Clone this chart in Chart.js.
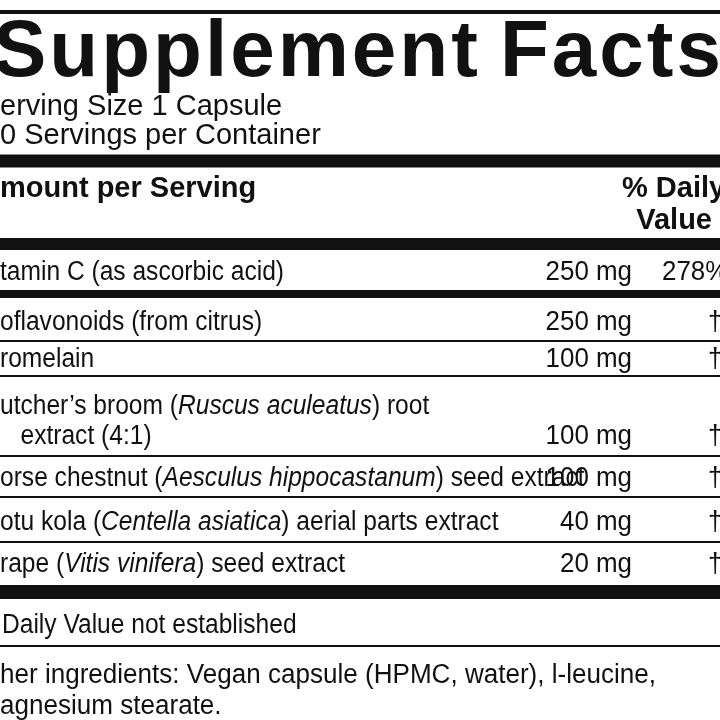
<!DOCTYPE html>
<html>
<head>
<meta charset="utf-8">
<script src="https://cdn.jsdelivr.net/npm/chart.js@4/dist/chart.umd.min.js"></script>
<style>
  html, body { margin: 0; padding: 0; background: #fff; }
  #label { display: block; }
</style>
</head>
<body>
<canvas id="label" width="720" height="720"></canvas>
<script>
// Dados do rótulo
const ingredientNames = [
    ['tamin C (as ascorbic acid)'],
    ['oflavonoids (from citrus)'],
    ['romelain'],
    ['utcher\u2019s broom (|Ruscus aculeatus|) root', '   extract (4:1)'],
    ['orse chestnut (|Aesculus hippocastanum|) seed extract'],
    ['otu kola (|Centella asiatica|) aerial parts extract'],
    ['rape (|Vitis vinifera|) seed extract']
];
const amounts = ['250 mg', '250 mg', '100 mg', '100 mg', '100 mg', '40 mg', '20 mg'];
const dailyValues = ['278%', '\u2020', '\u2020', '\u2020', '\u2020', '\u2020', '\u2020'];
const rowBaselines = [280, 330, 367, 444, 486, 530, 572];
const headerLines = ['erving Size 1 Capsule', '0 Servings per Container'];
const footerLines = ['Daily Value not established', 'her ingredients: Vegan capsule (HPMC, water), l-leucine,', 'agnesium stearate.'];

// Regras horizontais: [y, espessura]
const rules = [[12, 4], [161, 13], [244, 12], [294, 8], [341, 2], [376, 2], [456, 2], [497, 2], [542, 2], [592, 14], [646, 2]];

const FONT = '"Liberation Sans", Arial, sans-serif';

// Escreve texto comprimido na horizontal (fonte condensada)
function text(ctx, str, x, y, sx, align) {
    ctx.save();
    ctx.translate(x, y);
    ctx.scale(sx, 1);
    ctx.textAlign = align || 'left';
    ctx.fillText(str, 0, 0);
    const w = ctx.measureText(str).width * sx;
    ctx.restore();
    return w;
}

const labelPlugin = {
    id: 'labelPlugin',
    afterDraw(chart) {
        const ctx = chart.ctx;
        const xs = chart.scales.x;
        const ys = chart.scales.y;
        const X = v => xs.getPixelForValue(v);
        const Y = v => ys.getPixelForValue(v);
        ctx.save();
        ctx.fillStyle = '#111';

        rules.forEach(([y, h]) => ctx.fillRect(X(0), Y(y) - h / 2, X(720) - X(0), h));

        // Título
        ctx.font = 'bold 80px ' + FONT;
        ctx.letterSpacing = '3px';
        ctx.fillText('Supplement', X(-7), Y(76));
        ctx.fillText('Facts', X(500), Y(76));
        ctx.letterSpacing = '0px';

        ctx.font = '29px ' + FONT;
        text(ctx, headerLines[0], X(0), Y(115), 1.0);
        text(ctx, headerLines[1], X(0), Y(144), 1.0);

        ctx.font = 'bold 29px ' + FONT;
        text(ctx, 'mount per Serving', X(0), Y(197), 1.0);
        text(ctx, '% Daily', X(622), Y(197), 1.0);
        text(ctx, 'Value', X(712), Y(229), 1.0, 'right');

        // Linhas de ingredientes
        ingredientNames.forEach((lines, i) => {
            const base = rowBaselines[i];
            lines.forEach((line, j) => {
                const y = lines.length > 1 && j === 0 ? base - 30 : base;
                let x = X(0);
                line.split('|').forEach((part, k) => {
                    ctx.font = (k % 2 ? 'italic ' : '') + '27px ' + FONT;
                    x += text(ctx, part, x, Y(y), 0.91);
                });
            });
            ctx.font = '27px ' + FONT;
            text(ctx, amounts[i], X(632), Y(base), 0.96, 'right');
            text(ctx, dailyValues[i], dailyValues[i] === '\u2020' ? X(708) : X(662), Y(base), 0.96);
        });

        ctx.font = '27px ' + FONT;
        text(ctx, footerLines[0], X(2), Y(633), 0.91);
        text(ctx, footerLines[1], X(0), Y(683), 0.965);
        text(ctx, footerLines[2], X(0), Y(714), 0.965);
        ctx.restore();
    }
};

new Chart(document.getElementById('label').getContext('2d'), {
    type: 'scatter',
    data: {
        datasets: [{
            data: rowBaselines.map(y => ({ x: 0, y })),
            pointRadius: 0
        }]
    },
    options: {
        responsive: false,
        animation: false,
        layout: { padding: 0 },
        plugins: { legend: { display: false }, tooltip: { enabled: false } },
        scales: {
            x: { display: false, min: 0, max: 720 },
            y: { display: false, min: 0, max: 720, reverse: true }
        }
    },
    plugins: [labelPlugin]
});
</script>
</body>
</html>
